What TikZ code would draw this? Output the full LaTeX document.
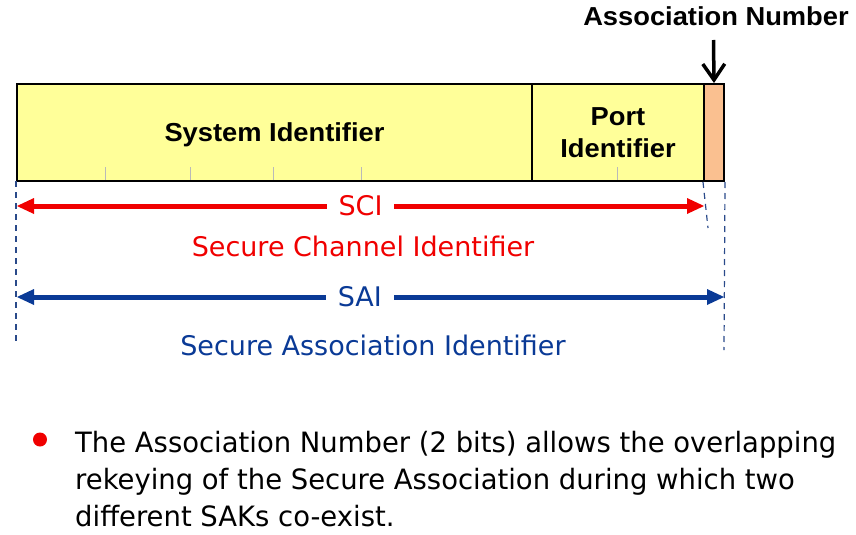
\documentclass[tikz,border=0pt]{standalone}
\usepackage{fontspec}
\setmainfont{DejaVu Sans}
\newfontfamily\arialfont{Liberation Sans}[FakeStretch=1.05]
\newfontfamily\notefont{DejaVu Sans}[FakeStretch=0.98]
\usepackage{xcolor}
\usepackage{tikz}
\usetikzlibrary{arrows.meta}
\definecolor{fieldyellow}{HTML}{FFFF99}
\definecolor{anorange}{HTML}{FAC090}
\definecolor{scired}{HTML}{F00000}
\definecolor{saiblue}{HTML}{0A3A96}
\definecolor{guideblue}{HTML}{2A4A8A}
\tikzset{
  field/.style={draw=black, line width=2pt, fill=fieldyellow, minimum height=97pt, inner sep=0pt, align=center, font=\arialfont\bfseries\fontsize{26}{32.5}\selectfont},
  tick/.style={gray!55, line width=0.7pt},
  guide/.style={guideblue, line width=1.2pt, dash pattern=on 6pt off 5pt},
  span/.style={line width=5pt, {Triangle[length=17pt,width=16pt,line width=0pt]}-{Triangle[length=17pt,width=16pt,line width=0pt]}},
  spanlabel/.style={fill=white, inner xsep=12pt, minimum height=48pt, font=\fontsize{27}{32}\selectfont},
  caption/.style={inner sep=0pt, font=\fontsize{27}{32}\selectfont},
  bodyline/.style={anchor=base west, inner sep=0pt, font=\notefont\fontsize{28}{37}\selectfont}
}

\begin{document}
\begin{tikzpicture}[x=1pt, y=-1pt]
   \useasboundingbox (0,0) rectangle (856,535);
   % the frame
   \node (sysid) [field, text depth=0pt, minimum width=515pt] at (274.5,132.5) {System Identifier};
   \node (portid) [field, minimum width=172pt] at (618,132.5) {Port\\Identifier};
   \node (an) [field, fill=anorange, minimum width=20pt] at (714,132.5) {};
   \foreach \x in {105,190,273,361,617}
      \draw [tick] (\x,167) -- (\x,180);
   \node (anlabel) [anchor=base, inner sep=0pt, font=\arialfont\bfseries\fontsize{26}{32}\selectfont] at (716,26) {Association Number};
   \coordinate (antop) at (713.5,40);
   \draw [line width=3.5pt, -{Straight Barb[length=16pt,width=22pt]}] (antop) -- (an.north);
   % guides
   \coordinate (guideL) at (16,345);
   \coordinate (guideM) at (708,228);
   \coordinate (guideR) at (724,350);
   \draw [guide] (16,181) -- (guideL);
   \draw [guide] (an.south west) -- (guideM);
   \draw [guide] (an.south east) -- (guideR);
   % spans
   \coordinate (sciL) at (17,206);
   \coordinate (sciR) at (704,206);
   \coordinate (saiL) at (17,297);
   \coordinate (saiR) at (724,297);
   \draw [span, scired] (sciL) -- node (sci) [spanlabel, text=scired, pos=0.5] {SCI} (sciR);
   \draw [span, saiblue] (saiL) -- node (sai) [spanlabel, text=saiblue, pos=0.485] {SAI} (saiR);
   \node (scitext) [caption, text=scired] at (363,246) {Secure Channel Identifier};
   \node (saitext) [caption, text=saiblue] at (373,345) {Secure Association Identifier};
   % note
   \node (bullet) [circle, fill=scired, minimum size=14pt, inner sep=0pt] at (40,439.5) {};
   \node (line1) [bodyline] at (75,452) {The Association Number (2 bits) allows the overlapping};
   \node (line2) [bodyline] at (75,489) {rekeying of the Secure Association during which two};
   \node (line3) [bodyline] at (75,526) {different SAKs co-exist.};
\end{tikzpicture}
\end{document}
